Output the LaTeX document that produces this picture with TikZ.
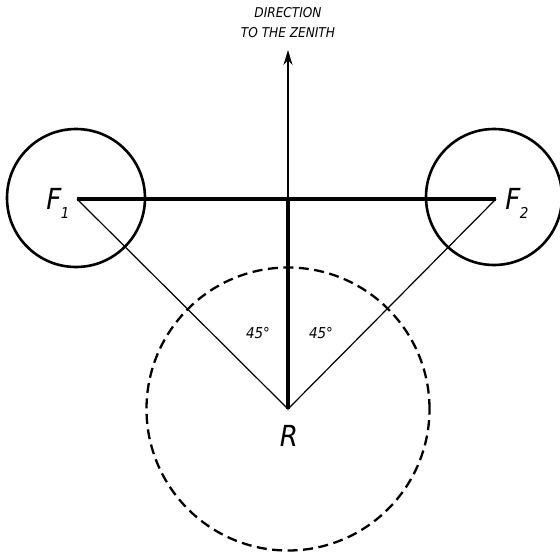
\documentclass[tikz,border=0pt]{standalone}
\usepackage{fontspec}
\setmainfont{DejaVu Sans Condensed}
\usetikzlibrary{arrows.meta}
\begin{document}
\begin{tikzpicture}[x=1pt,y=1pt,
  thickline/.style={line width=3.8pt},
  thinline/.style={line width=1.2pt},
  ring/.style={circle,draw,line width=2.6pt,inner sep=0pt},
  bigtext/.style={font=\fontsize{29}{29}\selectfont\itshape,inner sep=0pt},
  smalltext/.style={font=\fontsize{13.5}{20}\selectfont\itshape,inner sep=0pt,align=center},
  angtext/.style={font=\fontsize{15}{15}\selectfont\itshape,inner sep=0pt}]
\useasboundingbox (0,0) rectangle (560,-552);
% key points
\coordinate (F1) at (77,-199);
\coordinate (F2) at (496,-199);
\coordinate (T) at (288,-199);
\coordinate (R) at (288,-409);
\coordinate (Z) at (288,-50);
% circles
\node[ring,minimum size=138pt] (c1) at (76,-198) {};
\node[ring,minimum size=136pt] (c2) at (494,-197) {};
\node[circle,draw,dash pattern=on 10pt off 5.5pt,line width=2.3pt,inner sep=0pt,minimum size=283pt] (cR) at (R) {};
% lines
\draw[thinline] (F1) -- (R) -- (F2);
\draw[thickline] (F1) -- (F2);
\draw[thickline] (T) -- (R);
\draw[thinline,-{Stealth[length=15pt,width=9pt]}] (T) -- (Z);
% labels
\node[smalltext] (zen) at (288,-23) {DIRECTION\\TO THE ZENITH};
\node[bigtext] (lF1) at (58,-203) {F\kern-0.5pt\raisebox{-9pt}{\fontsize{15}{15}\selectfont 1}};
\node[bigtext] (lF2) at (517,-203) {F\kern-0.5pt\raisebox{-9pt}{\fontsize{15}{15}\selectfont 2}};
\node[bigtext] (lR) at (289,-436) {R};
\node[angtext] (a1) at (258,-333) {45°};
\node[angtext] (a2) at (321,-333) {45°};
\end{tikzpicture}
\end{document}
